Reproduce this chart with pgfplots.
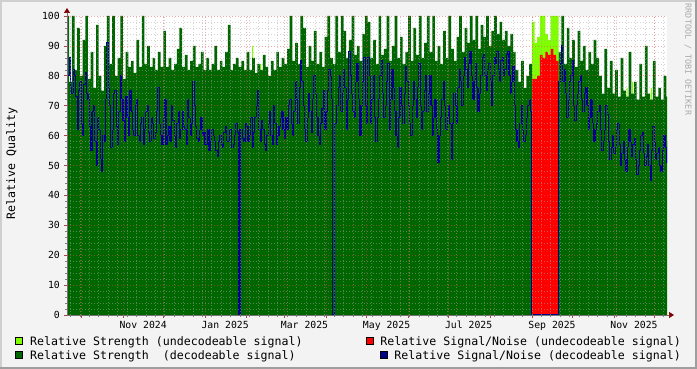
\documentclass[border=0pt]{standalone}
\usepackage{fontspec}
\setmainfont{DejaVu Sans Mono}
\setmonofont{DejaVu Sans Mono}
\usepackage{pgfplots}
\pgfplotsset{compat=1.18}
\usepackage{pgfplotstable}
\usetikzlibrary{arrows.meta}

\definecolor{bgc}{HTML}{F3F3F3}
\definecolor{shadea}{HTML}{CFCFCF}
\definecolor{shadeb}{HTML}{9E9E9E}
\definecolor{lgreen}{HTML}{80FF00}
\definecolor{dgreen}{HTML}{006600}
\definecolor{snblue}{HTML}{00008C}
\definecolor{snred}{HTML}{FF0000}
\definecolor{arrowred}{HTML}{7F0000}
\definecolor{gridc}{HTML}{A8A8A8}
\definecolor{mgridc}{HTML}{E05050}
\definecolor{wmark}{HTML}{AAAAAA}

% x = days since 1 Nov 2024, g = Relative Strength (decodeable signal)
\pgfplotstableread{
x g
-44 100
-42 100
-40 78
-38 100
-36 82
-34 96
-32 80
-30 92
-28 100
-26 79
-24 88
-22 76
-20 97
-18 80
-16 75
-14 90
-12 100
-10 84
-8 100
-6 80
-4 86
-2 100
0 79
2 88
4 83
6 85
8 81
10 92
12 83
14 100
16 84
18 90
20 83
22 86
24 82
26 88
28 83
30 95
32 83
34 86
36 82
38 84
40 89
42 96
44 83
46 87
48 82
50 85
52 90
54 83
56 84
58 88
60 82
62 86
64 82
66 84
68 90
70 82
72 85
74 83
76 88
78 97
80 82
82 84
84 86
86 83
88 85
90 82
92 88
94 82
96 86
98 81
100 84
102 82
104 87
106 83
108 80
110 85
112 82
114 88
116 83
118 86
120 84
122 89
124 100
126 85
128 91
130 84
132 100
134 96
136 83
138 90
140 85
142 95
144 84
146 88
148 83
150 93
152 100
154 86
156 84
158 100
160 88
162 100
164 95
166 86
168 92
170 100
172 87
174 90
176 85
178 94
180 100
182 98
184 86
186 92
188 84
190 100
192 87
194 89
196 100
198 85
200 90
202 100
204 86
206 93
208 84
210 88
212 100
214 85
216 96
218 87
220 100
222 86
224 91
226 100
228 88
230 100
232 85
234 90
236 84
238 95
240 86
242 100
244 89
246 85
248 93
250 100
252 88
254 96
256 91
258 100
260 92
262 100
264 89
266 97
268 93
270 100
272 90
274 95
276 100
278 94
280 98
282 92
284 95
286 90
288 94
290 88
292 82
294 78
296 85
298 76
300 80
302 84
304 0
322 0
324 88
326 100
328 84
330 96
332 86
334 92
336 83
338 95
340 85
342 90
344 82
346 88
348 84
350 92
352 86
354 80
356 74
358 89
360 76
362 85
364 74
366 82
368 73
370 86
372 75
374 73
376 88
378 74
380 78
382 72
384 84
386 73
388 90
390 74
392 72
394 85
396 73
398 76
400 72
402 80
404 73
406 73
}\strengthtab

% x = days since 1 Nov 2024, b = Relative Signal/Noise (decodeable signal)
\pgfplotstableread{
x b
-44 85
-43 84
-42 85
-41 80
-40 86
-39 76
-38 74
-37 82
-36 80
-35 73
-34 62
-33 75
-32 78
-31 64
-30 60
-29 77
-28 81
-27 74
-26 72
-25 63
-24 55
-23 68
-22 70
-21 58
-20 50
-19 66
-18 62
-17 52
-16 48
-15 60
-14 58
-13 72
-12 91
-11 76
-10 70
-9 56
-8 62
-7 74
-6 75
-5 63
-4 57
-3 68
-2 80
-1 72
0 65
1 58
2 73
3 66
4 60
5 75
6 68
7 62
8 60
9 70
10 72
11 60
12 58
13 64
14 66
15 57
16 62
17 68
18 70
19 61
20 58
21 66
22 64
23 59
24 61
25 68
26 76
27 64
28 60
29 57
30 66
31 72
32 57
33 60
34 63
35 58
36 70
37 65
38 60
39 56
40 64
41 68
42 59
43 62
44 68
45 63
46 62
47 57
48 72
49 66
50 60
51 64
52 78
53 70
54 63
55 59
56 58
57 62
58 66
59 60
60 61
61 57
62 57
63 62
64 55
65 58
66 62
67 60
68 58
69 55
70 53
71 58
72 60
73 57
74 56
75 61
76 63
77 58
78 58
79 62
80 62
81 56
82 57
83 60
84 64
85 61
86 0
87 62
88 62
89 59
90 58
91 64
92 63
93 58
94 60
95 66
96 56
97 61
98 66
99 70
100 75
101 62
102 58
103 65
104 62
105 57
106 55
107 60
108 64
109 68
110 60
111 57
112 70
113 64
114 57
115 60
116 63
117 66
118 68
119 62
120 59
121 66
122 62
123 70
124 72
125 64
126 60
127 68
128 78
129 72
130 64
131 76
132 85
133 78
134 70
135 62
136 58
137 66
138 74
139 68
140 61
141 72
142 80
143 74
144 66
145 60
146 57
147 64
148 69
149 75
150 62
151 68
152 75
153 82
154 80
155 72
156 0
157 64
158 64
159 70
160 76
161 80
162 68
163 74
164 82
165 76
166 62
167 72
168 88
169 80
170 74
171 68
172 66
173 78
174 84
175 72
176 60
177 70
178 78
179 86
180 70
181 64
182 86
183 80
184 64
185 72
186 80
187 66
188 58
189 66
190 72
191 80
192 85
193 74
194 66
195 70
196 78
197 84
198 62
199 72
200 82
201 76
202 68
203 60
204 56
205 66
206 76
207 70
208 64
209 74
210 83
211 78
212 70
213 64
214 60
215 70
216 78
217 72
218 66
219 76
220 84
221 70
222 62
223 68
224 75
225 80
226 68
227 74
228 80
229 70
230 60
231 66
232 72
233 62
234 51
235 60
236 66
237 72
238 78
239 70
240 62
241 66
242 70
243 64
244 52
245 64
246 74
247 70
248 64
249 76
250 82
251 78
252 70
253 80
254 86
255 82
256 76
257 84
258 88
259 80
260 72
261 78
262 84
263 76
264 68
265 74
266 80
267 86
268 87
269 80
270 75
271 82
272 84
273 78
274 70
275 80
276 86
277 84
278 88
279 82
280 78
281 85
282 86
283 80
284 82
285 87
286 88
287 80
288 74
289 78
290 83
291 70
292 62
293 58
294 56
295 64
296 70
297 62
298 58
299 60
300 66
301 70
302 72
303 68
304 0
323 0
324 78
325 84
326 90
327 78
328 82
329 74
330 66
331 72
332 78
333 80
334 85
335 70
336 65
337 70
338 74
339 78
340 80
341 72
342 68
343 74
344 76
345 70
346 62
347 66
348 72
349 64
350 58
351 62
352 64
353 68
354 70
355 62
356 55
357 58
358 62
359 70
360 67
361 58
362 52
363 56
364 60
365 54
366 56
367 62
368 64
369 57
370 50
371 54
372 58
373 52
374 48
375 56
376 62
377 58
378 53
379 57
380 59
381 52
382 47
383 50
384 55
385 60
386 61
387 54
388 50
389 53
390 57
391 50
392 45
393 55
394 63
395 58
396 52
397 54
398 56
399 50
400 48
401 55
402 60
403 56
404 51
405 58
406 58
}\sntab

\begin{document}
\begin{tikzpicture}
\useasboundingbox (0,0) rectangle (697pt,369pt);
\fill[bgc] (0,0) rectangle (697pt,369pt);
\fill[shadea] (0,367pt) rectangle (697pt,369pt);
\fill[shadea] (0,0) rectangle (2pt,369pt);
\fill[shadeb] (695pt,0) rectangle (697pt,369pt);
\fill[shadeb] (0,0) rectangle (697pt,2pt);

\begin{axis}[
  at={(67pt,54pt)}, anchor=south west,
  scale only axis, width=600pt, height=299pt,
  xmin=-41.6, xmax=404.5, ymin=0, ymax=100,
  axis background/.style={fill=white},
  axis on top,
  axis x line=bottom, axis y line=left,
  axis line style={draw=black!55, line width=0.7pt},
  x axis line style={-{Triangle[length=5pt,width=6pt,color=arrowred,fill=arrowred]}, shorten >=-7pt},
  y axis line style={-{Triangle[length=5pt,width=6pt,color=arrowred,fill=arrowred]}, shorten >=-8pt},
  xtick={-31,0,30,61,92,120,151,181,212,242,273,304,334,365,395},
  xticklabels={},
  minor xtick={-39,-32,...,402},
  extra x ticks={15,76,135,196,257,319,380},
  extra x tick labels={Nov 2024,Jan 2025,Mar 2025,May 2025,Jul 2025,Sep 2025,Nov 2025},
  extra x tick style={grid=none, major tick length=0pt},
  ytick={0,10,...,100},
  minor y tick num=4,
  grid=both,
  major grid style={draw=mgridc, draw opacity=0.5, dash pattern=on 1pt off 2pt, line width=0.6pt},
  minor grid style={draw=gridc, draw opacity=0.5, dash pattern=on 1pt off 2pt, line width=0.6pt},
  tick align=outside,
  major tick length=3pt, minor tick length=2pt,
  major tick style={draw=mgridc!80!black, line width=0.6pt},
  minor tick style={draw=gray, line width=0.5pt},
  tick label style={font=\fontsize{9.8}{11}\selectfont, /pgf/number format/assume math mode=true},
  yticklabel style={anchor=east, inner sep=0pt, xshift=-4pt},
  xticklabel style={anchor=north, inner sep=0pt, yshift=-5.7pt},
]
% Relative Strength (undecodeable signal)
\addplot[const plot mark left, fill=lgreen, draw=none] coordinates {
 (95,0)(96,90)(96.8,0)(101,0)(102,84)(102.8,0)
 (303,0)(304,98)(306,91)(308,93)(310,100)(312,100)(314,94)(316,92)(318,100)(320,100)(322,100)(324,0)
 (374,0)(374.5,76)(375.3,0)(378,0)(378.6,78)(379.4,0)(392,0)(392.6,76)(393.4,0)
} \closedcycle;
% Relative Signal/Noise (undecodeable signal)
\addplot[const plot mark left, fill=snred, draw=none] coordinates {
 (304,79)(306,79)(308,80)(310,87)(312,86)(314,88)(316,87)(318,89)(320,87)(322,85)(324,85)
} \closedcycle;
% Relative Strength (decodeable signal)
\addplot[const plot mark left, fill=dgreen, draw=none] table[x=x,y=g]{\strengthtab} \closedcycle;
% Relative Signal/Noise (decodeable signal)
\addplot[const plot mark left, draw=snblue, line width=1.1pt, no marks] table[x=x,y=b]{\sntab};
\end{axis}

\node[rotate=90, font=\fontsize{11.6}{13}\selectfont, inner sep=0pt] at (12pt,205.5pt) {Relative Quality};
\node[rotate=-90, font=\fontsize{8.4}{9}\selectfont, text=wmark, inner sep=0pt] at (688pt,309.5pt) {RRDTOOL / TOBI OETIKER};

\begin{scope}[font=\fontsize{11.6}{13}\selectfont]
\draw[black, fill=lgreen, line width=0.8pt] (15.5pt,24.5pt) rectangle (22.5pt,31.5pt);
\node[anchor=base west, inner sep=0pt] at (30pt,23.7pt) {Relative Strength (undecodeable signal)};
\draw[black, fill=dgreen, line width=0.8pt] (15.5pt,10.5pt) rectangle (22.5pt,17.5pt);
\node[anchor=base west, inner sep=0pt] at (30pt,9.7pt) {Relative Strength~ (decodeable signal)};
\draw[black, fill=snred, line width=0.8pt] (366.5pt,24.5pt) rectangle (373.5pt,31.5pt);
\node[anchor=base east, inner sep=0pt] at (681pt,23.7pt) {Relative Signal/Noise (undecodeable signal)};
\draw[black, fill=snblue, line width=0.8pt] (380.5pt,10.5pt) rectangle (387.5pt,17.5pt);
\node[anchor=base east, inner sep=0pt] at (681pt,9.7pt) {Relative Signal/Noise (decodeable signal)};
\end{scope}
\end{tikzpicture}
\end{document}
